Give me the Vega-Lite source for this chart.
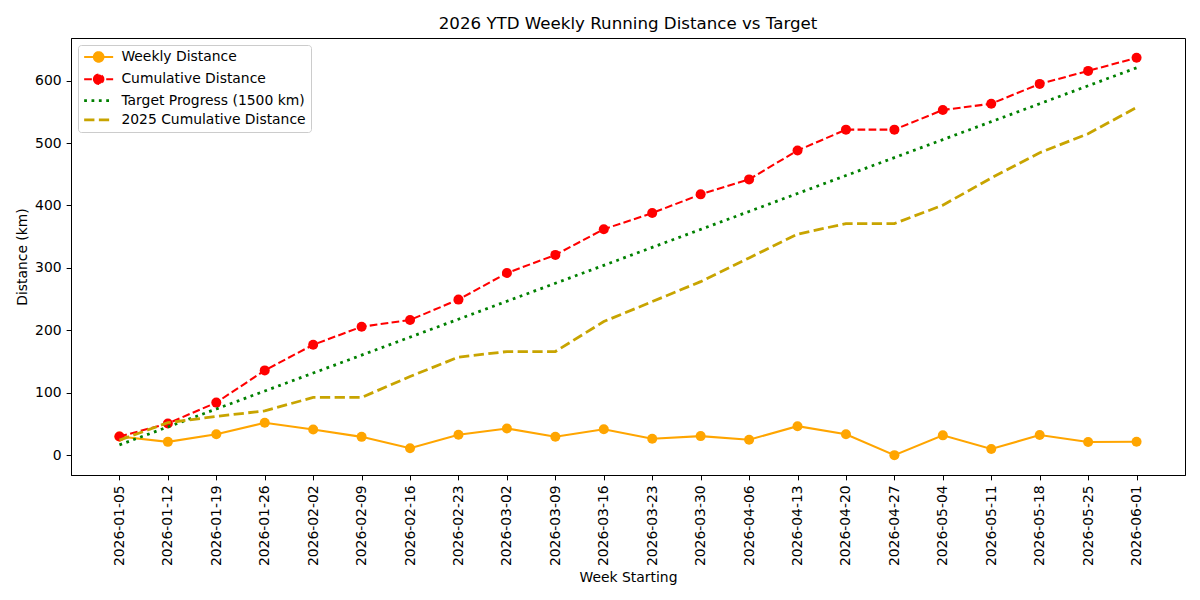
{
  "$schema": "https://vega.github.io/schema/vega-lite/v6.json",
  "width": 1114,
  "height": 437,
  "autosize": {"type": "none"},
  "padding": {"left": 71, "top": 38, "right": 15, "bottom": 125},
  "background": "white",
  "title": {"text": "2026 YTD Weekly Running Distance vs Target", "font": "DejaVu Sans", "fontSize": 16.67, "fontWeight": "normal", "color": "black", "offset": 5, "anchor": "middle"},
  "config": {
    "view": {"stroke": "black", "strokeWidth": 1},
    "axis": {"labelFont": "DejaVu Sans", "labelFontSize": 13.9, "labelColor": "black", "titleFont": "DejaVu Sans", "titleFontSize": 13.9, "titleFontWeight": "normal", "titleColor": "black", "tickColor": "black", "tickSize": 4.86, "tickWidth": 1, "domainColor": "black", "grid": false}
  },
  "data": {"values": [
    {"week": "2026-01-05", "weekly": 29.8, "cumulative": 29.8, "target": 16.44, "prev": 24},
    {"week": "2026-01-12", "weekly": 21.3, "cumulative": 50.8, "target": 45.21, "prev": 52},
    {"week": "2026-01-19", "weekly": 33.5, "cumulative": 84.2, "target": 73.97, "prev": 62},
    {"week": "2026-01-26", "weekly": 51.8, "cumulative": 135.8, "target": 102.74, "prev": 71},
    {"week": "2026-02-02", "weekly": 41.2, "cumulative": 176.8, "target": 131.51, "prev": 92.5},
    {"week": "2026-02-09", "weekly": 29.3, "cumulative": 205.7, "target": 160.27, "prev": 92.5},
    {"week": "2026-02-16", "weekly": 11.1, "cumulative": 216.6, "target": 189.04, "prev": 126},
    {"week": "2026-02-23", "weekly": 32.7, "cumulative": 249.2, "target": 217.81, "prev": 157},
    {"week": "2026-03-02", "weekly": 42.8, "cumulative": 291.8, "target": 246.58, "prev": 166},
    {"week": "2026-03-09", "weekly": 29.5, "cumulative": 320.8, "target": 275.34, "prev": 166},
    {"week": "2026-03-16", "weekly": 41.5, "cumulative": 362, "target": 304.11, "prev": 214},
    {"week": "2026-03-23", "weekly": 26.3, "cumulative": 387.8, "target": 332.88, "prev": 246},
    {"week": "2026-03-30", "weekly": 30.5, "cumulative": 417.8, "target": 361.64, "prev": 278},
    {"week": "2026-04-06", "weekly": 24.8, "cumulative": 441.8, "target": 390.41, "prev": 316},
    {"week": "2026-04-13", "weekly": 46.4, "cumulative": 488.1, "target": 419.18, "prev": 354},
    {"week": "2026-04-20", "weekly": 33.5, "cumulative": 521.5, "target": 447.95, "prev": 371},
    {"week": "2026-04-27", "weekly": 0, "cumulative": 521.5, "target": 476.71, "prev": 371},
    {"week": "2026-05-04", "weekly": 31.7, "cumulative": 553, "target": 505.48, "prev": 400.5},
    {"week": "2026-05-11", "weekly": 9.8, "cumulative": 563, "target": 534.25, "prev": 444},
    {"week": "2026-05-18", "weekly": 32.2, "cumulative": 594.8, "target": 563.01, "prev": 484.5},
    {"week": "2026-05-25", "weekly": 21.1, "cumulative": 615.6, "target": 591.78, "prev": 515},
    {"week": "2026-06-01", "weekly": 21.4, "cumulative": 636.6, "target": 620.55, "prev": 557}
  ]},
  "transform": [{"fold": ["weekly", "cumulative", "target", "prev"], "as": ["series", "km"]}],
  "encoding": {
    "x": {"field": "week", "type": "ordinal", "sort": null, "scale": {"type": "point", "padding": 1.05}, "axis": {"title": "Week Starting", "labelAngle": 270, "labelPadding": 5, "titlePadding": 5}},
    "y": {"field": "km", "type": "quantitative", "scale": {"domain": [-31.8, 668.3], "nice": false, "zero": false}, "axis": {"title": "Distance (km)", "values": [0, 100, 200, 300, 400, 500, 600], "labelPadding": 5, "titlePadding": 5}},
    "color": {
      "field": "series", "type": "nominal",
      "scale": {"domain": ["weekly", "cumulative", "target", "prev"], "range": ["#FFA500", "#FF0000", "#008000", "#C8A400"]},
      "legend": {
        "title": null, "orient": "top-left", "offset": 7, "padding": 5,
        "fillColor": "rgba(255,255,255,0.8)", "strokeColor": "#cccccc", "cornerRadius": 3,
        "labelFont": "DejaVu Sans", "labelFontSize": 13.9, "labelColor": "black", "labelLimit": 300,
        "symbolSize": 100, "symbolOffset": 8.7, "labelOffset": 15.8, "rowPadding": 4.3,
        "labelExpr": "{'weekly': 'Weekly Distance', 'cumulative': 'Cumulative Distance', 'target': 'Target Progress (1500 km)', 'prev': '2025 Cumulative Distance'}[datum.value]",
        "encode": {"symbols": {"update": {
          "shape": {"signal": "datum.value == 'weekly' || datum.value == 'cumulative' ? 'M-2.9,0L2.9,0M-0.95,0A0.95,0.95,0,1,0,0.95,0A0.95,0.95,0,1,0,-0.95,0Z' : 'M-2.9,0L2.9,0'"},
          "fill": {"signal": "datum.value == 'weekly' ? '#FFA500' : datum.value == 'cumulative' ? '#FF0000' : 'transparent'"},
          "stroke": {"signal": "datum.value == 'weekly' ? '#FFA500' : datum.value == 'cumulative' ? '#FF0000' : datum.value == 'target' ? '#008000' : '#C8A400'"},
          "strokeDash": {"signal": "datum.value == 'cumulative' ? [7.7, 3.33] : datum.value == 'target' ? [2.78, 4.58] : datum.value == 'prev' ? [10.28, 4.44] : [1, 0]"},
          "strokeWidth": {"signal": "datum.value == 'target' || datum.value == 'prev' ? 2.78 : 2.08"},
          "opacity": {"value": 1}
        }}}
      }
    }
  },
  "layer": [
    {"transform": [{"filter": "datum.series == 'weekly'"}], "mark": {"type": "line", "strokeWidth": 2.08}},
    {"transform": [{"filter": "datum.series == 'weekly'"}], "mark": {"type": "point", "filled": true, "size": 100, "opacity": 1, "strokeWidth": 0}},
    {"transform": [{"filter": "datum.series == 'cumulative'"}], "mark": {"type": "line", "strokeWidth": 2.08, "strokeDash": [7.7, 3.33]}},
    {"transform": [{"filter": "datum.series == 'cumulative'"}], "mark": {"type": "point", "filled": true, "size": 100, "opacity": 1, "strokeWidth": 0}},
    {"transform": [{"filter": "datum.series == 'target'"}], "mark": {"type": "line", "strokeWidth": 2.78, "strokeDash": [2.78, 4.58]}},
    {"transform": [{"filter": "datum.series == 'prev'"}], "mark": {"type": "line", "strokeWidth": 2.78, "strokeDash": [10.28, 4.44]}}
  ]
}
